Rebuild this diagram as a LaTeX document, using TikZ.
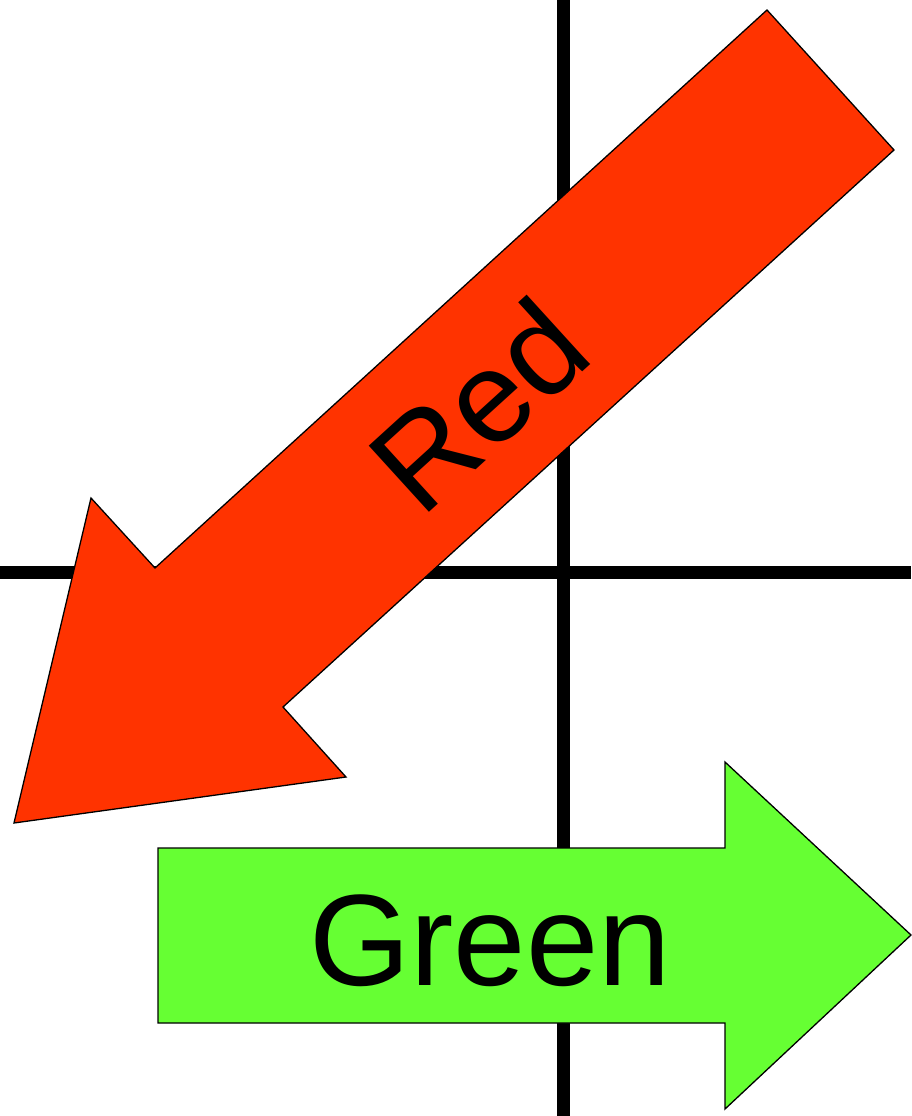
\documentclass[tikz,border=0pt]{standalone}
\usepackage{fontspec}
\setmainfont{Liberation Sans}
\definecolor{redfill}{HTML}{FF3300}
\definecolor{greenfill}{HTML}{66FF33}
\begin{document}
\begin{tikzpicture}[x=1pt,y=-1pt,
  axis/.style={line width=13pt,black},
  arrowshape/.style={draw=black,line width=1.3pt,line join=miter},
  label/.style={inner sep=0pt,font=\fontsize{130}{156}\selectfont,text=black}]
\useasboundingbox (0,0) rectangle (911,1116);
% axes
\draw[axis] (563,0) -- (563,1116);
\draw[axis] (0,572) -- (911,572);
% red arrow
\filldraw[arrowshape,fill=redfill] (767,10) -- (894,150) -- (283,707) -- (346,777)
  -- (14,823) -- (91,498) -- (155,568) -- cycle;
\node[label,rotate=42.3] (red) at (478,405) {Red};
% green arrow
\filldraw[arrowshape,fill=greenfill] (158,848) -- (725,848) -- (725,762) -- (911,935)
  -- (725,1109) -- (725,1023) -- (158,1023) -- cycle;
\node[label,anchor=base] (green) at (490,985) {Green};
\end{tikzpicture}
\end{document}
